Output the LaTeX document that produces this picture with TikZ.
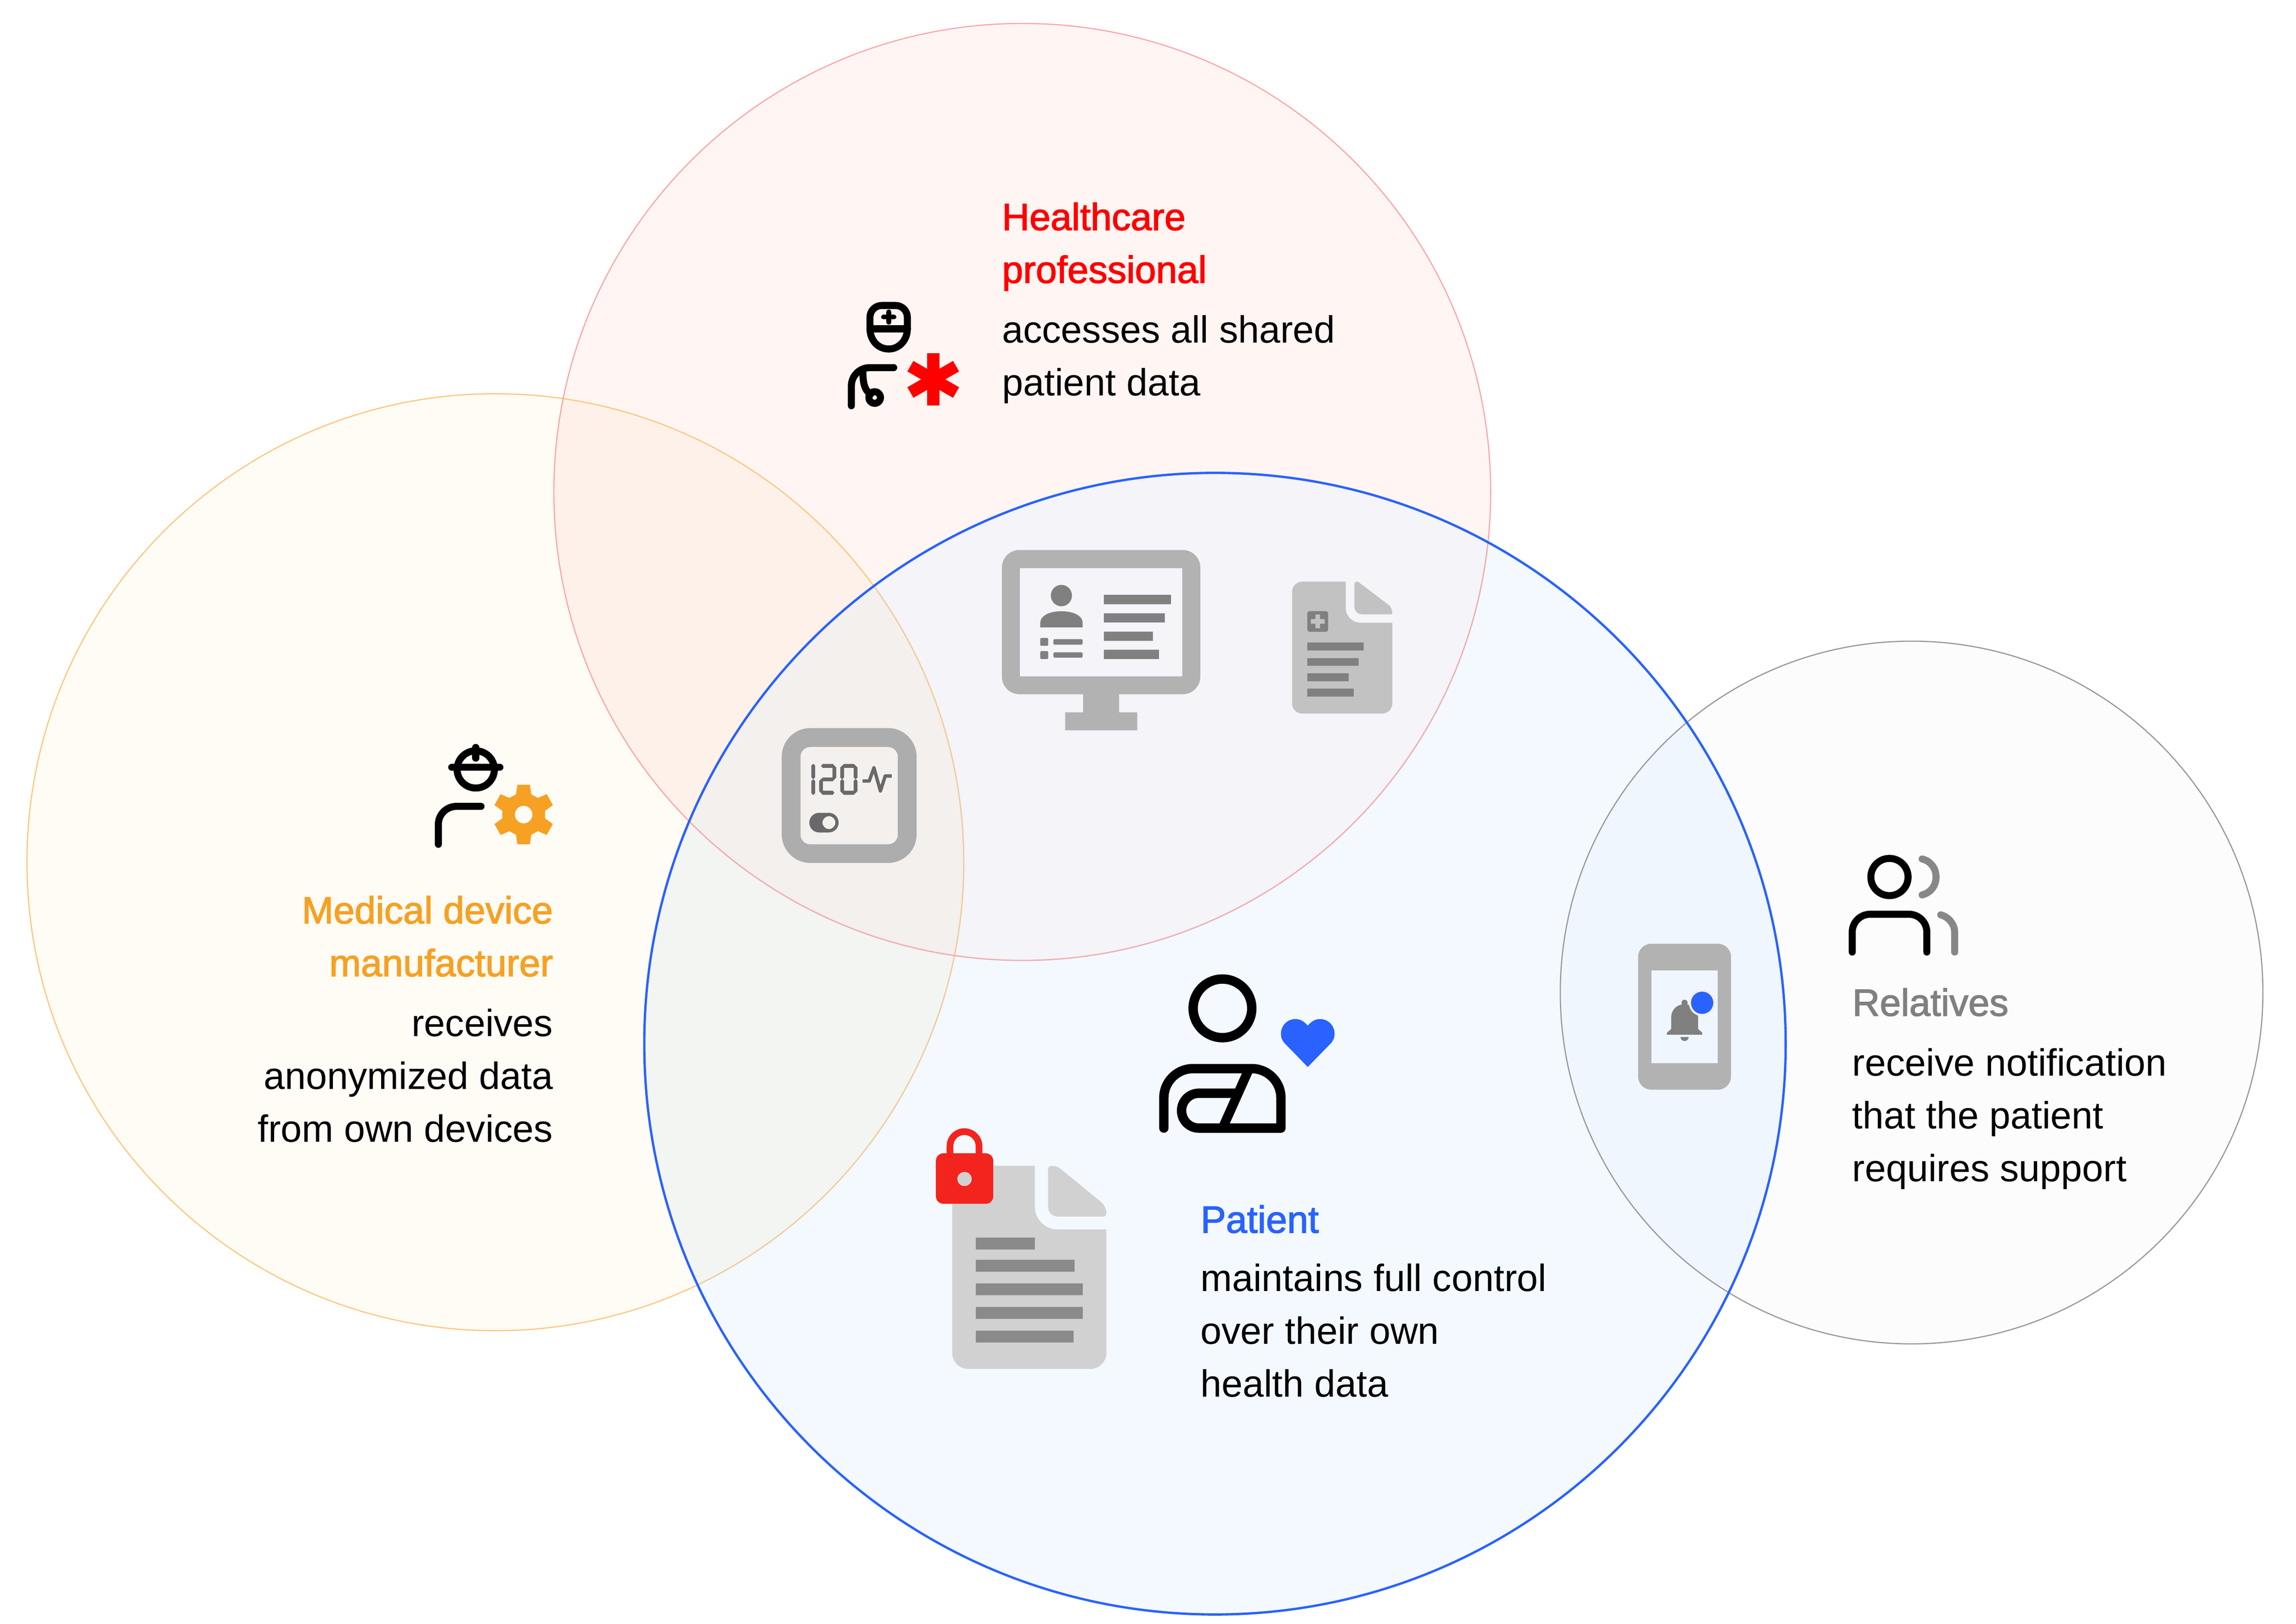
\documentclass[tikz,border=0pt]{standalone}
\usepackage{fontspec}
\usepackage{xcolor}
\setmainfont{Liberation Sans}
\newfontfamily\titlefont[FakeBold=2]{Liberation Sans}
\usetikzlibrary{calc}

\definecolor{hcred}{HTML}{FF0000}
\definecolor{mdorange}{HTML}{F6A123}
\definecolor{ptblue}{HTML}{2962FF}
\definecolor{relgray}{HTML}{808080}
\definecolor{sidegray}{RGB}{135,135,135}
\definecolor{lockred}{HTML}{F3241D}
\definecolor{halo}{RGB}{243,239,233}
% fills of the circles and of their overlaps
\definecolor{fillO}{RGB}{255,251,245}
\definecolor{fillR}{RGB}{255,246,244}
\definecolor{fillB}{RGB}{243,249,254}
\definecolor{fillG}{RGB}{252,252,252}
\definecolor{fillOR}{RGB}{254,241,233}
\definecolor{fillOB}{RGB}{243,245,243}
\definecolor{fillRB}{RGB}{244,244,249}
\definecolor{fillORB}{RGB}{243,240,238}
\definecolor{fillBG}{RGB}{239,246,253}
% outlines
\definecolor{lineO}{RGB}{255,198,125}
\definecolor{lineR}{RGB}{255,165,165}
\definecolor{lineOB}{RGB}{240,205,160}
\definecolor{lineRB}{RGB}{240,175,178}

\def\circO{(338,588.2) circle[radius=319.6]}
\def\circR{(697.5,335.6) circle[radius=319.6]}
\def\circB{(829,712) circle[radius=389.4]}
\def\circG{(1304.3,677.1) circle[radius=239.7]}

\tikzset{
    iconline/.style={line width=4.8pt, line cap=round, line join=round},
    titletext/.style={inner sep=0pt, font=\titlefont\fontsize{25.9}{36}\selectfont},
    bodytext/.style={inner sep=0pt, font=\fontsize{25.9}{36}\selectfont},
}

\begin{document}
\begin{tikzpicture}[x=1pt, y=-1pt]
    \useasboundingbox (0,0) rectangle (1566.6,1107.6);
    \fill[white] (0,0) rectangle (1566.6,1107.6);

    %CIRCLES
    \fill[fillG] \circG;
    \fill[fillO] \circO;
    \fill[fillR] \circR;
    \fill[fillB] \circB;
    \begin{scope} \clip \circO; \fill[fillOR] \circR; \end{scope}
    \begin{scope} \clip \circO; \fill[fillOB] \circB; \end{scope}
    \begin{scope} \clip \circR; \fill[fillRB] \circB; \end{scope}
    \begin{scope} \clip \circO; \clip \circR; \fill[fillORB] \circB; \end{scope}
    \begin{scope} \clip \circB; \fill[fillBG] \circG; \end{scope}
    \draw[black!40, line width=0.8pt] \circG;
    \draw[lineO, line width=0.8pt] \circO;
    \draw[lineR, line width=0.8pt] \circR;
    \begin{scope} \clip \circB;
        \draw[lineOB, line width=0.8pt] \circO;
        \draw[lineRB, line width=0.8pt] \circR;
    \end{scope}
    \draw[ptblue, line width=1.6pt] \circB;

    %DOCTOR
    \draw[iconline] (593.6,224.3) -- (593.6,216.4) .. controls (593.6,212) and (597.2,208.4) .. (601.6,208.4) -- (611.1,208.4) .. controls (615.5,208.4) and (619.1,212) .. (619.1,216.4) -- (619.1,224.3);
    \draw[iconline] (593.6,224.3) -- (619.1,224.3);
    \draw[iconline] (593.6,224.3) .. controls (593.6,232) and (599,238.1) .. (606.4,238.1) .. controls (613.5,238.1) and (619.1,232) .. (619.1,224.3);
    \draw[line width=3.2pt, line cap=round] (602.8,216.3) -- (610,216.3) (606.4,212.7) -- (606.4,219.9);
    \draw[iconline, rounded corners=12.5pt] (580.9,276.8) -- (580.9,250.8) -- (609.8,250.8);
    \draw[iconline] (588.7,252) .. controls (588.7,262) and (590,266) .. (594,269);
    \draw[iconline] (596.8,271.2) circle[radius=4];
    \foreach \ang in {0,60,120} {
        \fill[hcred, rotate around={\ang:(636.75,258.8)}] (632.6,240.8) rectangle (640.9,276.8);
    }

    %ENGINEER
    \draw[iconline] (324.6,524.9) circle[radius=12.7];
    \draw[iconline] (308.2,523.5) -- (341.1,523.5);
    \draw[iconline] (324.6,509.9) -- (324.6,517.2);
    \draw[iconline, rounded corners=12.3pt] (299.1,576) -- (299.1,550.1) -- (328.2,550.1);
    \fill[mdorange, even odd rule, shift={(357.3,555.7)}] (-4.27,-20.33) -- (4.27,-20.33) -- (5.2,-13.8) -- (9.67,-11.33) -- (15.73,-13.93) -- (19.93,-6.47) -- (14.53,-2.53) -- (14.67,0) -- (14.53,2.53) -- (19.93,6.47) -- (15.73,13.93) -- (9.67,11.33) -- (5.2,13.8) -- (4.27,20.33) -- (-4.27,20.33) -- (-5.2,13.8) -- (-9.67,11.33) -- (-15.73,13.93) -- (-19.93,6.47) -- (-14.53,2.53) -- (-14.67,0) -- (-14.53,-2.53) -- (-19.93,-6.47) -- (-15.73,-13.93) -- (-9.67,-11.33) -- (-5.2,-13.8) -- cycle (0,0) circle[radius=6];

    %MONITOR
    \fill[black!30, even odd rule, rounded corners=12pt] (683.6,375.2) rectangle (819,473.6) [sharp corners] (695.8,387.6) rectangle (806.7,461.4);
    \fill[black!30] (739,473) rectangle (763.6,486) (726.8,486) rectangle (776,498.2);
    \fill[relgray] (724.2,406.3) ellipse[x radius=7.2, y radius=7.3];
    \fill[relgray] (709.8,428) -- (709.8,425) .. controls (709.8,420) and (716,417) .. (724.2,417) .. controls (732.5,417) and (738.7,420) .. (738.7,425) -- (738.7,428) -- cycle;
    \fill[relgray, rounded corners=0.8pt] (709.8,435.2) rectangle (715.2,440.6) (718.8,436) rectangle (738.7,439.8) (709.8,444.2) rectangle (715.2,449.6) (718.8,445) rectangle (738.7,448.6);
    \fill[relgray] (753.2,405.8) rectangle (799,412.2) (753.2,418.4) rectangle (794.8,424.7) (753.2,430.9) rectangle (786.6,437.2) (753.2,443.2) rectangle (790.8,449.6);

    %SMALL DOC
    \fill[black!24] (881.6,403.8) .. controls (881.6,400) and (884.7,396.8) .. (888.6,396.8) -- (918.2,396.8) -- (918.2,414.8) .. controls (918.2,420.3) and (922.7,424.8) .. (928.2,424.8) -- (950,424.8) -- (950,479.8) .. controls (950,483.7) and (946.9,486.8) .. (943,486.8) -- (888.6,486.8) .. controls (884.7,486.8) and (881.6,483.7) .. (881.6,479.8) -- cycle;
    \fill[black!24] (924.2,398.3) .. controls (924.2,397.3) and (925,396.8) .. (925.8,396.8) .. controls (926.2,396.8) and (926.8,397) .. (927.2,397.3) -- (947.5,412.7) .. controls (949.2,414) and (950,416.5) .. (950,418.6) -- (949.6,419.1) -- (929.5,419.1) .. controls (926.5,419.1) and (924.2,416.8) .. (924.2,414) -- cycle;
    \fill[relgray, rounded corners=1.5pt] (892,416.9) rectangle (906.2,431);
    \fill[black!24] (894.4,422.3) rectangle (903.8,425.5) (897.5,419.2) rectangle (900.7,428.6);
    \fill[relgray] (892,438.4) rectangle (930.4,443.8) (892,449) rectangle (927,454.2) (892,459.4) rectangle (920.2,464.8) (892,469.8) rectangle (923.6,475.2);

    %GAUGE
    \fill[black!32, even odd rule, rounded corners=19.5pt] (533.4,496.7) rectangle (625.4,588.7) [rounded corners=6.6pt] (546.2,509.6) rectangle (612.6,576);
    \fill[black!59] (554.9,521) -- (556.2,522.3) -- (556.2,530.3) -- (554.9,531.5) -- (556.2,532.8) -- (556.2,541.1) -- (554.9,542.4) -- (553.6,541.1) -- (553.6,532.8) -- (554.9,531.5) -- (553.6,530.3) -- (553.6,522.3) -- cycle;
    \fill[black!59] (560.2,522.5) -- (561.3,521.2) -- (568.2,521.2) -- (570.6,523.6) -- (570.6,530.4) -- (568.2,533) -- (561.5,533) -- (561.5,539.4) -- (568.2,539.4) -- (569.3,540.8) -- (568.2,542.2) -- (561.3,542.2) -- (558.9,539.7) -- (558.9,532.8) -- (561.3,530.4) -- (568,530.4) -- (568,523.8) -- (561.3,523.8) -- cycle;
    \fill[black!59, even odd rule] (575.8,521.2) -- (582.6,521.2) -- (585.1,523.6) -- (585.1,530.4) -- (583.9,531.5) -- (585.1,532.8) -- (585.1,539.7) -- (582.6,542.2) -- (575.8,542.2) -- (573.3,539.7) -- (573.3,532.8) -- (574.5,531.5) -- (573.3,530.4) -- (573.3,523.6) -- cycle (575.9,523.8) -- (582.5,523.8) -- (582.5,530.4) -- (583.7,531.5) -- (582.5,532.8) -- (582.5,539.4) -- (575.9,539.4) -- (575.9,532.8) -- (574.7,531.5) -- (575.9,530.4) -- cycle;
    \draw[black!59, line width=2.3pt, line join=round] (588.5,532.8) -- (593.1,532.8) -- (596.3,523.8) -- (600.7,539.6) -- (604,529.4) -- (608.5,529.4);
    \fill[black!59, even odd rule, rounded corners=6.7pt] (552.2,554.5) rectangle (572.2,567.9) (565.6,561.2) circle[radius=4.4];

    %PATIENT
    \draw[line width=6.4pt] (834.1,687.9) circle[radius=20];
    \draw[line width=6.4pt, line cap=round, line join=round, rounded corners=20pt] (794.1,769.6) -- (794.1,729) -- (874,729) -- (874,769.6);
    \draw[line width=6.4pt, line join=round] (874,769.6) -- (818,769.6) .. controls (811.5,769.6) and (806.2,764.3) .. (806.2,757.7) .. controls (806.2,751.1) and (811.5,745.8) .. (818,745.8) -- (845,745.8);
    \draw[line width=6.4pt] (852.1,729.5) -- (834.2,769.5);
    \fill[ptblue] (892.3,699.7) .. controls (889.5,696.5) and (887,695.2) .. (883.9,695.2) .. controls (878,695.2) and (874,700) .. (874,705.2) .. controls (874,708) and (875,710) .. (876.3,711.5) -- (892.3,727.9) -- (908.3,711.5) .. controls (909.6,710) and (910.6,708) .. (910.6,705.2) .. controls (910.6,700) and (906.6,695.2) .. (900.7,695.2) .. controls (897.6,695.2) and (895.1,696.5) .. (892.3,699.7) -- cycle;

    %BIG DOC
    \fill[black!18] (706.1,795.3) -- (706.1,823.3) .. controls (706.1,831.8) and (713,838.7) .. (721.5,838.7) -- (754.9,838.7) -- (754.9,922.9) .. controls (754.9,929) and (750,933.9) .. (743.9,933.9) -- (660.7,933.9) .. controls (654.6,933.9) and (649.7,929) .. (649.7,922.9) -- (649.7,806.3) .. controls (649.7,800.2) and (654.6,795.3) .. (660.7,795.3) -- cycle;
    \fill[black!18] (715.1,797.6) .. controls (715.1,796.3) and (716.4,795.3) .. (718,795.3) .. controls (720.5,795.3) and (722.8,796.8) .. (724.7,798.2) -- (751.4,820.1) .. controls (753.5,822) and (754.9,825) .. (754.9,827.5) .. controls (754.9,829) and (754,829.9) .. (753.2,829.9) -- (721.5,829.9) .. controls (718,829.9) and (715.1,827) .. (715.1,823.4) -- cycle;
    \fill[black!46] (665.8,844.3) rectangle (706.1,852.4) (665.8,859.4) rectangle (733.2,867.5) (665.8,875.5) rectangle (738.8,883.6) (665.8,891.6) rectangle (738.8,899.7) (665.8,907.8) rectangle (732.5,915.9);

    %LOCK
    \draw[lockred, line width=4.6pt] (648.2,788) -- (648.2,781.9) .. controls (648.2,776.4) and (652.6,772) .. (658,772) .. controls (663.4,772) and (668,776.4) .. (668,781.9) -- (668,788);
    \fill[lockred, rounded corners=5pt] (638.6,786.8) rectangle (677.7,821.2);
    \fill[black!18] (658.1,804.3) ellipse[x radius=4.9, y radius=4.8];

    %PHONE
    \fill[black!30, even odd rule, rounded corners=9pt] (1117.7,643.8) rectangle (1181.1,743.4) [sharp corners] (1126.8,662) rectangle (1172,725.3);
    \fill[relgray] (1149.4,684.1) circle[radius=2.1];
    \fill[relgray] (1140.3,701.9) -- (1140.3,694) .. controls (1140.3,689) and (1144,685.1) .. (1149.4,685.1) .. controls (1154.8,685.1) and (1158.6,689) .. (1158.6,694) -- (1158.6,701.9) -- (1161.4,704.5) -- (1161.4,705.9) -- (1137.4,705.9) -- (1137.4,704.5) -- cycle;
    \fill[relgray] (1146.6,707.4) .. controls (1146.6,709) and (1147.9,710.2) .. (1149.4,710.2) .. controls (1150.9,710.2) and (1152.2,709) .. (1152.2,707.4) -- cycle;
    \fill[halo] (1161.4,684.1) circle[radius=9.1];
    \fill[ptblue] (1161.4,684.1) circle[radius=7.6];

    %RELATIVES
    \draw[iconline] (1289.2,598.3) circle[radius=12.7];
    \draw[iconline, rounded corners=12.2pt] (1263.8,649.5) -- (1263.8,623.7) -- (1314.7,623.7) -- (1314.7,649.5);
    \draw[iconline, sidegray] (1311.5,586) .. controls (1317.5,587.5) and (1321,592.5) .. (1321,598.3) .. controls (1321,604) and (1317.5,609) .. (1311.5,610.5);
    \draw[iconline, sidegray] (1324.2,624.1) .. controls (1329.5,625.5) and (1333.7,630.5) .. (1333.7,636) -- (1333.7,649.5);

    %TEXT
    \node[titletext, hcred, align=left, anchor=north west] (hctitle) at (683.5,138) {Healthcare\\professional};
    \node[bodytext, align=left, anchor=north west] (hcbody) at (683.5,215) {accesses all shared\\patient data};
    \node[titletext, mdorange, align=right, anchor=north east] (mdtitle) at (377.5,611) {Medical device\\manufacturer};
    \node[bodytext, align=right, anchor=north east] (mdbody) at (377.5,688) {receives\\anonymized data\\from own devices};
    \node[titletext, ptblue, align=left, anchor=north west] (pttitle) at (819,822) {Patient};
    \node[bodytext, align=left, anchor=north west] (ptbody) at (819,862) {maintains full control\\over their own\\health data};
    \node[titletext, relgray, align=left, anchor=north west] (reltitle) at (1263.7,674) {Relatives};
    \node[bodytext, align=left, anchor=north west] (relbody) at (1263.7,715) {receive notification\\that the patient\\requires support};
\end{tikzpicture}
\end{document}
